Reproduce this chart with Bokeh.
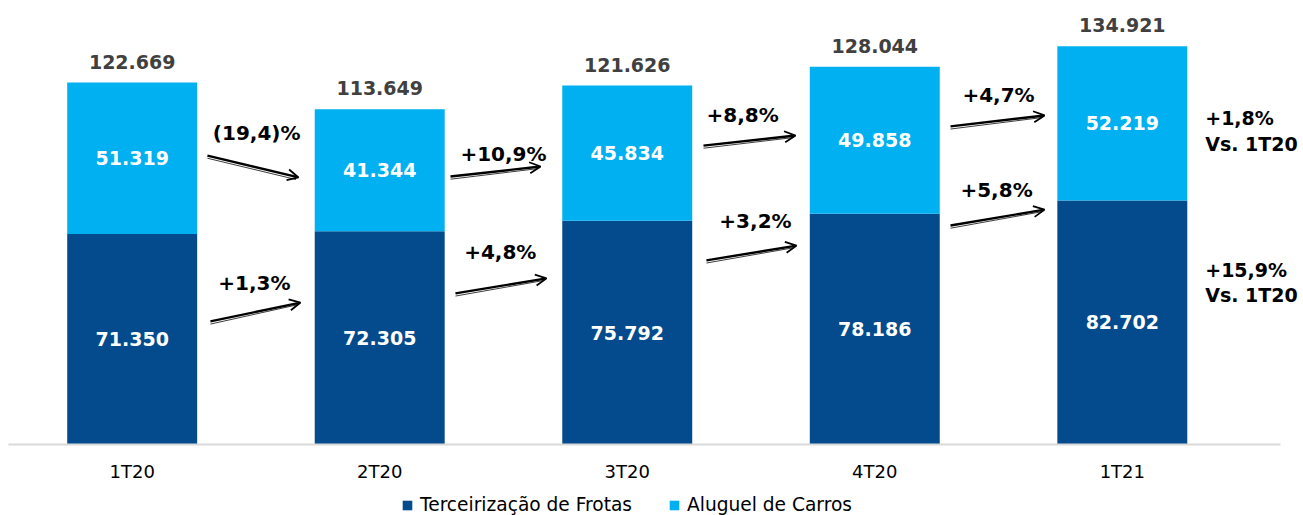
from bokeh.plotting import figure
from bokeh.models import ColumnDataSource, Range1d, Arrow, OpenHead, Legend, LegendItem
from bokeh.core.properties import value
from bokeh.embed import file_html
from bokeh.resources import INLINE

# ---- data ----
quarters = ["1T20", "2T20", "3T20", "4T20", "1T21"]
frotas = [71350, 72305, 75792, 78186, 82702]
carros = [51319, 41344, 45834, 49858, 52219]
totals = [122669, 113649, 121626, 128044, 134921]
growth_carros = ["(19,4)%", "+10,9%", "+8,8%", "+4,7%"]
growth_frotas = ["+1,3%", "+4,8%", "+3,2%", "+5,8%"]
vs_carros = ["+1,8%", "Vs. 1T20"]
vs_frotas = ["+15,9%", "Vs. 1T20"]
series_names = ["Terceirização de Frotas", "Aluguel de Carros"]

# ---- annotation placement (data units) ----
arrow_carros = [  # (x0, y0, x1, y1)
    (0.304, 97900, 0.672, 90500),
    (1.286, 90800, 1.650, 94200),
    (2.308, 101300, 2.680, 104700),
    (3.306, 107800, 3.686, 111500),
]
arrow_frotas = [
    (0.316, 41700, 0.680, 48100),
    (1.306, 51200, 1.674, 56300),
    (2.320, 62400, 2.684, 67400),
    (3.306, 74200, 3.686, 79600),
]
label_carros_pos = [(0.503, 105400), (1.50, 98600), (2.466, 111800), (3.50, 118600)]
label_frotas_pos = [(0.494, 54600), (1.487, 65100), (2.518, 75900), (3.492, 86400)]

DARK = "#034B8D"
LIGHT = "#00B0F0"
FONT = value("DejaVu Sans")

def fmt(v):
    return f"{v:,}".replace(",", ".")

xs = list(range(len(quarters)))
src = ColumnDataSource(dict(
    x=xs, frotas=frotas, carros=carros, totals=totals,
    frotas_mid=[f / 2 for f in frotas],
    carros_mid=[f + c / 2 for f, c in zip(frotas, carros)],
    frotas_lbl=[fmt(v) for v in frotas],
    carros_lbl=[fmt(v) for v in carros],
    totals_lbl=[fmt(v) for v in totals],
    q=quarters, zero=[0] * len(quarters),
))

p = figure(width=1303, height=515, output_backend="svg", toolbar_location=None,
           x_range=Range1d(-0.532, 4.732), y_range=Range1d(-24060, 150460),
           min_border=0, outline_line_color=None)
p.axis.visible = False
p.grid.visible = False

rs = p.vbar_stack(["frotas", "carros"], x="x", width=0.525, color=[DARK, LIGHT],
                  line_color=None, source=src)

# baseline
p.segment(x0=[-0.5], y0=[0], x1=[4.639], y1=[0], line_color="#d9d9d9", line_width=2)

# value labels
p.text(x="x", y="frotas_mid", text="frotas_lbl", source=src, text_color="white",
       text_font=FONT, text_font_style="bold", text_font_size="19px",
       text_align="center", text_baseline="middle")
p.text(x="x", y="carros_mid", text="carros_lbl", source=src, text_color="white",
       text_font=FONT, text_font_style="bold", text_font_size="19px",
       text_align="center", text_baseline="middle")
p.text(x="x", y="totals", text="totals_lbl", source=src, text_color="#404040",
       text_font=FONT, text_font_style="bold", text_font_size="19px",
       text_align="center", text_baseline="middle", y_offset=-21)

# category labels
p.text(x="x", y="zero", text="q", source=src, text_color="#000000",
       text_font=FONT, text_font_size="18px",
       text_align="center", text_baseline="middle", y_offset=27)

# growth arrows
for (x0, y0, x1, y1) in arrow_carros + arrow_frotas:
    p.add_layout(Arrow(x_start=x0, y_start=y0, x_end=x1, y_end=y1,
                       line_color="black", line_width=2.4,
                       end=OpenHead(size=11, line_width=1.8, line_color="black")))
    p.segment(x0=[x0], y0=[y0 - 900], x1=[x1 - 0.01], y1=[y1 - 700],
              line_color="black", line_width=0.9, line_alpha=0.85)

# growth labels
p.text(x=[a for a, b in label_carros_pos], y=[b for a, b in label_carros_pos],
       text=growth_carros, text_color="black", text_font=FONT, text_font_style="bold",
       text_font_size="20px", text_align="center", text_baseline="middle")
p.text(x=[a for a, b in label_frotas_pos], y=[b for a, b in label_frotas_pos],
       text=growth_frotas, text_color="black", text_font=FONT, text_font_style="bold",
       text_font_size="20px", text_align="center", text_baseline="middle")

# vs 1T20 labels
p.text(x=[4.335, 4.335], y=[110500, 102000], text=vs_carros, text_color="black",
       text_font=FONT, text_font_style="bold", text_font_size="19px",
       text_align="left", text_baseline="middle")
p.text(x=[4.335, 4.335], y=[59000, 50500], text=vs_frotas, text_color="black",
       text_font=FONT, text_font_style="bold", text_font_size="19px",
       text_align="left", text_baseline="middle")

legend = Legend(items=[LegendItem(label=series_names[0], renderers=[rs[0]]),
                       LegendItem(label=series_names[1], renderers=[rs[1]])],
                orientation="horizontal", location=(401, 0),
                glyph_width=12, glyph_height=12, label_standoff=7, spacing=36,
                padding=0, margin=0, border_line_alpha=0, background_fill_alpha=0,
                label_text_font="DejaVu Sans", label_text_font_size="18.6px",
                label_text_color="#000000")
p.add_layout(legend, "center")

open("out.html", "w").write(file_html(p, INLINE))
